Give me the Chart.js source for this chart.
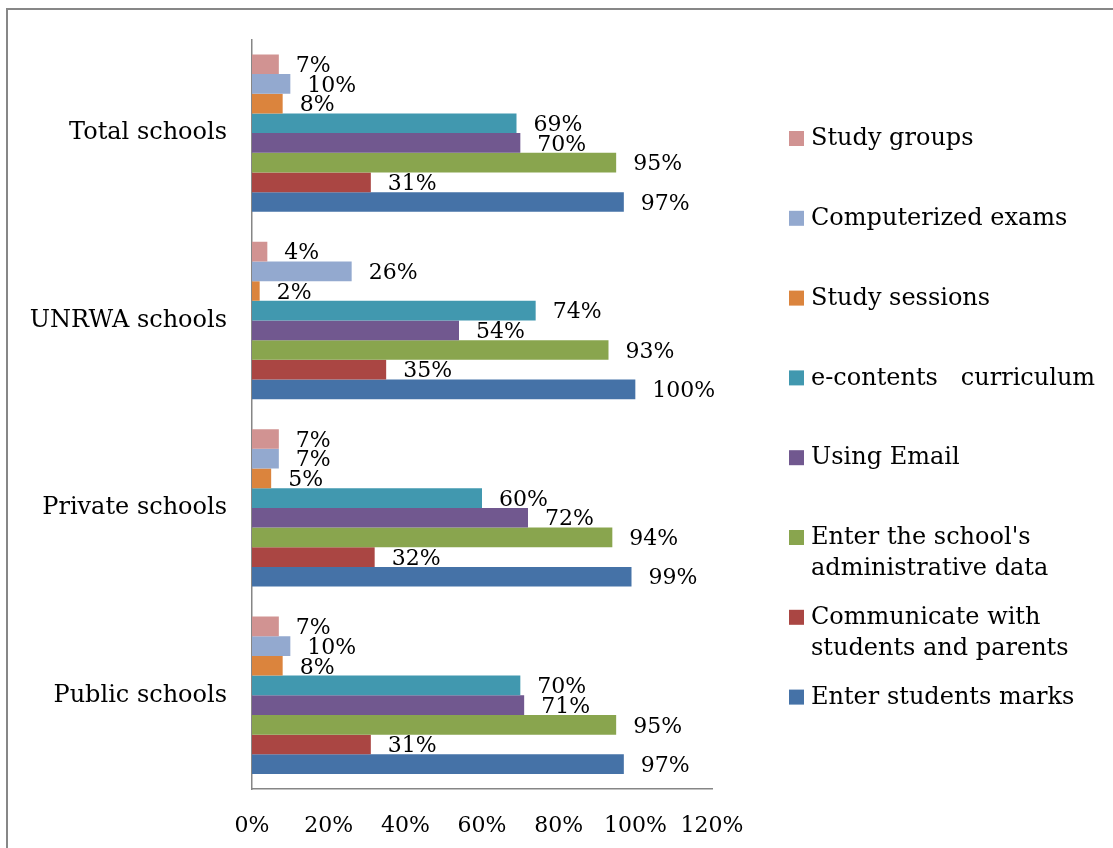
<!DOCTYPE html>
<html>
<head>
<meta charset="utf-8">
<title>School uses of e-services</title>
<script src="https://cdn.jsdelivr.net/npm/chart.js@4.4.1/dist/chart.umd.min.js"></script>
<style>
  body { margin: 0; background: #fff; overflow: hidden; }
  #wrap { position: relative; width: 1113px; height: 848px; }
  #frame {
    position: absolute; left: 6px; top: 8px; width: 1200px; height: 1000px;
    border-left: 2px solid #878787; border-top: 2px solid #878787;
  }
  #usageChart { position: absolute; left: 0; top: 0; }
</style>
</head>
<body>
<div id="wrap">
  <div id="frame"></div>
  <canvas id="usageChart" width="1113" height="848"></canvas>
</div>
<script>
const categories = ['Total schools', 'UNRWA schools', 'Private schools', 'Public schools'];

const seriesNames = [
  'Study groups',
  'Computerized exams',
  'Study sessions',
  'e-contents   curriculum',
  'Using Email',
  "Enter the school's\nadministrative data",
  'Communicate with\nstudents and parents',
  'Enter students marks',
];

const seriesColors = ['#D19392', '#93A9CF', '#DB843D', '#4198AF', '#71588F', '#89A54E', '#AA4643', '#4572A7'];

// percentages per school type, same order as categories
const studyGroups = [7, 4, 7, 7];
const computerizedExams = [10, 26, 7, 10];
const studySessions = [8, 2, 5, 8];
const eContents = [69, 74, 60, 70];
const usingEmail = [70, 54, 72, 71];
const adminData = [95, 93, 94, 95];
const communicate = [31, 35, 32, 31];
const studentMarks = [97, 100, 99, 97];

const seriesValues = [studyGroups, computerizedExams, studySessions, eContents, usingEmail, adminData, communicate, studentMarks];

const FONT = "'DejaVu Serif', serif";

// value labels just past the end of every bar
const barLabels = {
  id: 'barLabels',
  afterDatasetsDraw(chart) {
    const ctx = chart.ctx;
    ctx.save();
    ctx.font = `22px ${FONT}`;
    ctx.fillStyle = '#000';
    ctx.textAlign = 'left';
    ctx.textBaseline = 'middle';
    chart.data.datasets.forEach((ds, i) => {
      const meta = chart.getDatasetMeta(i);
      meta.data.forEach((bar, j) => {
        ctx.fillText(`${ds.data[j]}%`, bar.x + 17, bar.y + 2);
      });
    });
    ctx.restore();
  },
};

// legend on the right, one fixed slot per series
const sideLegend = {
  id: 'sideLegend',
  afterDraw(chart) {
    const ctx = chart.ctx;
    const left = 789;
    const firstY = 138;
    const slot = 79.8;
    const lineGap = 31;
    ctx.save();
    ctx.font = `24px ${FONT}`;
    ctx.textAlign = 'left';
    ctx.textBaseline = 'middle';
    chart.data.datasets.forEach((ds, i) => {
      const y = firstY + i * slot;
      ctx.fillStyle = ds.backgroundColor;
      ctx.fillRect(left, y - 7, 15, 15);
      ctx.fillStyle = '#000';
      ds.label.split('\n').forEach((line, k) => {
        ctx.fillText(line, left + 22, y + 1 + k * lineGap);
      });
    });
    ctx.restore();
  },
};

new Chart(document.getElementById('usageChart'), {
  type: 'bar',
  data: {
    labels: categories,
    datasets: seriesNames.map((name, i) => ({
      label: name,
      data: seriesValues[i],
      backgroundColor: seriesColors[i],
      borderWidth: 0,
      categoryPercentage: 0.84,
      barPercentage: 1,
    })),
  },
  options: {
    indexAxis: 'y',
    responsive: false,
    animation: false,
    layout: { padding: { top: 38, right: 401, left: 0, bottom: 0 } },
    plugins: {
      legend: { display: false },
      tooltip: { enabled: false },
    },
    scales: {
      x: {
        min: 0,
        max: 120,
        grid: { display: false, drawTicks: false },
        border: { display: true, color: '#868686', width: 1.5 },
        ticks: {
          stepSize: 20,
          padding: 24,
          color: '#000',
          font: { family: FONT, size: 22 },
          callback: (v) => `${v}%`,
        },
        afterFit: (scale) => { scale.height = 59; },
      },
      y: {
        grid: { display: false, drawTicks: false },
        border: { display: true, color: '#868686', width: 1.5 },
        ticks: {
          padding: 25,
          color: '#000',
          font: { family: FONT, size: 24 },
        },
        afterFit: (scale) => { scale.width = 252; },
      },
    },
  },
  plugins: [barLabels, sideLegend],
});
</script>
</body>
</html>
